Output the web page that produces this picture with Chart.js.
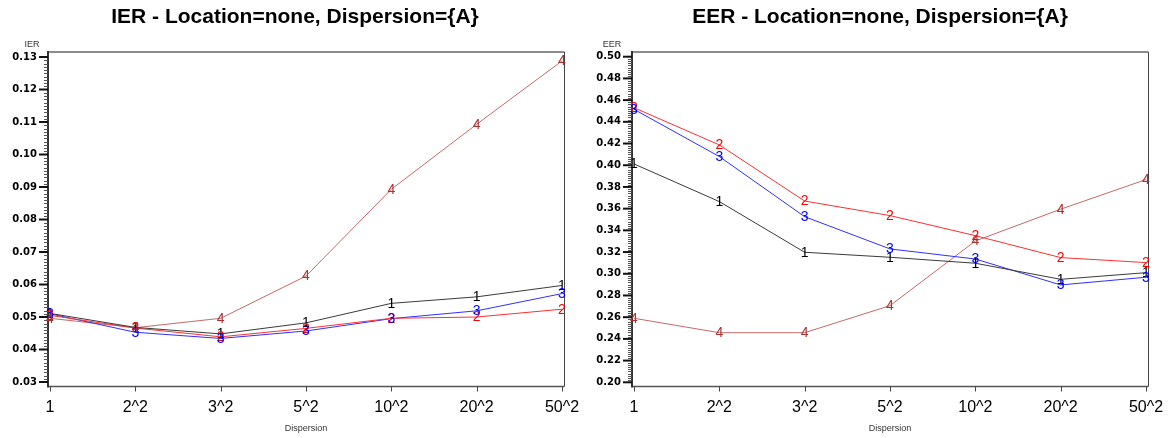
<!DOCTYPE html>
<html><head><meta charset="utf-8">
<script src="https://cdn.jsdelivr.net/npm/chart.js@4.4.0/dist/chart.umd.min.js"></script>
<style>
html,body{margin:0;padding:0;background:#fff;width:1171px;height:438px;overflow:hidden}
#c1{position:absolute;left:0;top:0}
#c2{position:absolute;left:585px;top:0}
</style></head><body>
<canvas id="c1" width="585" height="438"></canvas>
<canvas id="c2" width="586" height="438"></canvas>
<script>
const categories = ['1','2^2','3^2','5^2','10^2','20^2','50^2'];
const seriesLabels = ['1','2','3','4'];
const ier1 = [0.0511,0.0468,0.0448,0.0482,0.0542,0.0562,0.0597];
const ier2 = [0.0505,0.0466,0.0439,0.0465,0.0496,0.0500,0.0524];
const ier3 = [0.0510,0.0453,0.0434,0.0457,0.0495,0.0519,0.0572];
const ier4 = [0.0496,0.0467,0.0496,0.0626,0.0893,0.1093,0.1288];
const eer1 = [0.4012,0.3665,0.3198,0.3152,0.3097,0.2949,0.3010];
const eer2 = [0.4530,0.4187,0.3670,0.3536,0.3351,0.3149,0.3103];
const eer3 = [0.4515,0.4080,0.3526,0.3229,0.3136,0.2897,0.2968];
const eer4 = [0.2590,0.2457,0.2457,0.2706,0.3302,0.3595,0.3868];
const ierTicks = [0.03,0.04,0.05,0.06,0.07,0.08,0.09,0.10,0.11,0.12,0.13];
const eerTicks = [0.20,0.22,0.24,0.26,0.28,0.30,0.32,0.34,0.36,0.38,0.40,0.42,0.44,0.46,0.48,0.50];

const lineColors = ['#3a3a3a','#ff3030','#3030ff','#c46a6a'];
const markColors = ['#000000','#ff0000','#0000ff','#a83232'];
const FONT = "'Liberation Sans', Arial, sans-serif";

const framePlugin = {
  id:'frame',
  beforeDatasetsDraw(chart){
    const {ctx, chartArea:a, scales:{x,y}} = chart;
    const opts = chart.options.plugins.frame;
    const L=a.left-2, R=a.right+2.5, T=a.top, B=a.bottom+0.5;
    ctx.save();
    ctx.lineCap='butt';
    ctx.strokeStyle='#8c8c8c'; ctx.lineWidth=2;
    ctx.beginPath(); ctx.moveTo(L,T); ctx.lineTo(R,T); ctx.stroke();
    ctx.strokeStyle='#444'; ctx.lineWidth=1;
    ctx.beginPath(); ctx.moveTo(R,T); ctx.lineTo(R,B); ctx.stroke();
    ctx.strokeStyle='#555'; ctx.lineWidth=1.5;
    ctx.beginPath(); ctx.moveTo(L,B); ctx.lineTo(R,B); ctx.stroke();
    ctx.strokeStyle='#444'; ctx.lineWidth=1;
    categories.forEach((c,i)=>{
      const px=Math.round(x.getPixelForValue(i))+0.5;
      ctx.beginPath(); ctx.moveTo(px,B); ctx.lineTo(px,B+5); ctx.stroke();
    });
    ctx.strokeStyle='#333'; ctx.lineWidth=2;
    ctx.beginPath(); ctx.moveTo(L,T-1); ctx.lineTo(L,B+1); ctx.stroke();
    const t = opts.ticks;
    ctx.strokeStyle='#111'; ctx.lineWidth=2;
    t.forEach(v=>{
      const py=y.getPixelForValue(v);
      ctx.beginPath(); ctx.moveTo(L-9,py); ctx.lineTo(L,py); ctx.stroke();
    });
    ctx.strokeStyle='#555'; ctx.lineWidth=1;
    for(let k=0;k<t.length-1;k++){
      const st=(t[k+1]-t[k])/10;
      for(let m=1;m<10;m++){
        const py=Math.round(y.getPixelForValue(t[k]+st*m))+0.5;
        ctx.beginPath(); ctx.moveTo(L-4,py); ctx.lineTo(L,py); ctx.stroke();
      }
    }
    ctx.fillStyle='#333'; ctx.font='9px '+FONT; ctx.textAlign='center'; ctx.textBaseline='middle';
    ctx.fillText(opts.yTitle, opts.yTitleX, 45);
    ctx.fillStyle='#000'; ctx.font='bold 21px '+FONT;
    ctx.fillText(opts.title, opts.titleX, 17);
    ctx.restore();
  },
  afterDatasetsDraw(chart){
    const ctx=chart.ctx;
    ctx.save();
    ctx.font='14px '+FONT; ctx.textAlign='center'; ctx.textBaseline='middle';
    chart.data.datasets.forEach((ds,d)=>{
      const meta=chart.getDatasetMeta(d);
      ctx.fillStyle=markColors[d];
      meta.data.forEach(p=>{ ctx.fillText(seriesLabels[d], p.x, p.y+0.5); });
    });
    ctx.restore();
  }
};

function makeChart(id, title, titleX, yTitle, yTitleX, series, ticks, ymin, ymax, yWidth, rightPad){
  return new Chart(document.getElementById(id), {
    type:'line',
    data:{
      labels:categories,
      datasets: series.map((s,i)=>({
        label:seriesLabels[i], data:s, borderColor:lineColors[i], borderWidth:1,
        pointRadius:0, fill:false, tension:0
      }))
    },
    options:{
      responsive:false, animation:false, devicePixelRatio:1,
      layout:{padding:{left:0,right:rightPad,top:52,bottom:0}},
      plugins:{
        legend:{display:false}, tooltip:{enabled:false}, title:{display:false},
        frame:{ticks:ticks, yTitle:yTitle, yTitleX:yTitleX, title:title, titleX:titleX}
      },
      scales:{
        x:{type:'category', offset:false,
          grid:{display:false, drawTicks:false}, border:{display:false},
          ticks:{font:{family:FONT,size:16}, color:'#000', padding:12, maxRotation:0, autoSkip:false},
          title:{display:true, text:'Dispersion', color:'#333', font:{family:FONT,size:9}, padding:{top:0,bottom:4}},
          afterFit(s){ s.height=52; s.paddingLeft=0; s.paddingRight=0; }
        },
        y:{type:'linear', min:ymin, max:ymax,
          grid:{display:false, drawTicks:false}, border:{display:false},
          afterBuildTicks(s){ s.ticks = ticks.map(v=>({value:v})); },
          ticks:{font:{family:"'DejaVu Sans', sans-serif",size:10,weight:'bold'}, color:'#000', padding:13,
            callback:(v)=>Number(v).toFixed(2)},
          afterFit(s){ s.width=yWidth; s.paddingTop=0; s.paddingBottom=0; }
        }
      }
    },
    plugins:[framePlugin]
  });
}

makeChart('c1','IER - Location=none, Dispersion={A}',295,'IER',32,[ier1,ier2,ier3,ier4],ierTicks,0.02877,0.13154,50,23);
makeChart('c2','EER - Location=none, Dispersion={A}',295,'EER',27,[eer1,eer2,eer3,eer4],eerTicks,0.19659,0.50433,49,25);
</script>
</body></html>
